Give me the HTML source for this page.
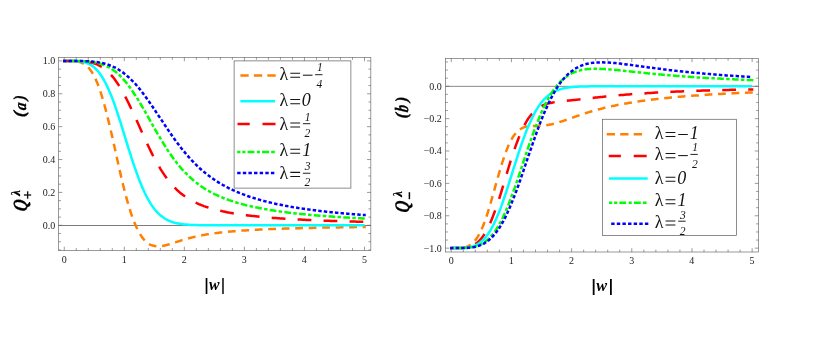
<!DOCTYPE html>
<html><head><meta charset="utf-8"><title>Q plots</title>
<style>
html,body{margin:0;padding:0;background:#fff;}
body{width:817px;height:364px;overflow:hidden;font-family:"Liberation Serif",serif;}
svg{display:block;will-change:transform;opacity:0.999}
svg text{font-family:"Liberation Serif",serif;}
.tk{font-size:10px;fill:#222;}
.lg{font-size:18px;font-style:italic;fill:#151515;}
.lu{font-size:18px;font-style:normal;fill:#151515;}
.fr{font-size:11.5px;font-style:italic;fill:#151515;}
.bl{font-size:17px;font-style:italic;font-weight:bold;fill:#000;stroke:#000;stroke-width:0.3px;}
.bw{font-size:17px;font-style:italic;font-weight:bold;fill:#000;}
.bs{font-size:12px;font-style:italic;font-weight:bold;fill:#000;stroke:#000;stroke-width:0.2px;}
.bsu{font-size:12px;font-style:normal;font-weight:bold;fill:#000;}
</style></head><body>
<svg width="817" height="364" viewBox="0 0 817 364">
<rect width="817" height="364" fill="#fff"/>
<clipPath id="ca"><rect x="58.55" y="57.4" width="312.30" height="193.10"/></clipPath>
<line x1="58.55" y1="225.5" x2="370.85" y2="225.5" stroke="#5a5a5a" stroke-width="0.8"/>
<rect x="58.55" y="57.4" width="312.30" height="193.10" fill="none" stroke="#5c5c5c" stroke-width="0.62"/>
<path d="M64.25,250.5v-3.8M64.25,57.4v3.8M76.26,250.5v-2.4M76.26,57.4v2.4M88.27,250.5v-2.4M88.27,57.4v2.4M100.28,250.5v-2.4M100.28,57.4v2.4M112.29,250.5v-2.4M112.29,57.4v2.4M124.30,250.5v-3.8M124.30,57.4v3.8M136.31,250.5v-2.4M136.31,57.4v2.4M148.32,250.5v-2.4M148.32,57.4v2.4M160.33,250.5v-2.4M160.33,57.4v2.4M172.34,250.5v-2.4M172.34,57.4v2.4M184.35,250.5v-3.8M184.35,57.4v3.8M196.36,250.5v-2.4M196.36,57.4v2.4M208.37,250.5v-2.4M208.37,57.4v2.4M220.38,250.5v-2.4M220.38,57.4v2.4M232.39,250.5v-2.4M232.39,57.4v2.4M244.40,250.5v-3.8M244.40,57.4v3.8M256.41,250.5v-2.4M256.41,57.4v2.4M268.42,250.5v-2.4M268.42,57.4v2.4M280.43,250.5v-2.4M280.43,57.4v2.4M292.44,250.5v-2.4M292.44,57.4v2.4M304.45,250.5v-3.8M304.45,57.4v3.8M316.46,250.5v-2.4M316.46,57.4v2.4M328.47,250.5v-2.4M328.47,57.4v2.4M340.48,250.5v-2.4M340.48,57.4v2.4M352.49,250.5v-2.4M352.49,57.4v2.4M364.50,250.5v-3.8M364.50,57.4v3.8M58.55,249.96h2.4M370.85,249.96h-2.4M58.55,241.74h2.4M370.85,241.74h-2.4M58.55,233.52h2.4M370.85,233.52h-2.4M58.55,225.30h3.8M370.85,225.30h-3.8M58.55,217.08h2.4M370.85,217.08h-2.4M58.55,208.86h2.4M370.85,208.86h-2.4M58.55,200.64h2.4M370.85,200.64h-2.4M58.55,192.42h3.8M370.85,192.42h-3.8M58.55,184.20h2.4M370.85,184.20h-2.4M58.55,175.98h2.4M370.85,175.98h-2.4M58.55,167.76h2.4M370.85,167.76h-2.4M58.55,159.54h3.8M370.85,159.54h-3.8M58.55,151.32h2.4M370.85,151.32h-2.4M58.55,143.10h2.4M370.85,143.10h-2.4M58.55,134.88h2.4M370.85,134.88h-2.4M58.55,126.66h3.8M370.85,126.66h-3.8M58.55,118.44h2.4M370.85,118.44h-2.4M58.55,110.22h2.4M370.85,110.22h-2.4M58.55,102.00h2.4M370.85,102.00h-2.4M58.55,93.78h3.8M370.85,93.78h-3.8M58.55,85.56h2.4M370.85,85.56h-2.4M58.55,77.34h2.4M370.85,77.34h-2.4M58.55,69.12h2.4M370.85,69.12h-2.4M58.55,60.90h3.8M370.85,60.90h-3.8" stroke="#5c5c5c" stroke-width="0.62" fill="none"/>
<text x="64.15" y="262.85" text-anchor="middle" class="tk">0</text>
<text x="124.20" y="262.85" text-anchor="middle" class="tk">1</text>
<text x="184.25" y="262.85" text-anchor="middle" class="tk">2</text>
<text x="244.30" y="262.85" text-anchor="middle" class="tk">3</text>
<text x="304.35" y="262.85" text-anchor="middle" class="tk">4</text>
<text x="364.40" y="262.85" text-anchor="middle" class="tk">5</text>
<text x="55.3" y="228.75" text-anchor="end" class="tk">0.0</text>
<text x="55.3" y="195.87" text-anchor="end" class="tk">0.2</text>
<text x="55.3" y="162.99" text-anchor="end" class="tk">0.4</text>
<text x="55.3" y="130.11" text-anchor="end" class="tk">0.6</text>
<text x="55.3" y="97.23" text-anchor="end" class="tk">0.8</text>
<text x="55.3" y="64.35" text-anchor="end" class="tk">1.0</text>
<g clip-path="url(#ca)">
<path d="M64.3,60.9 L65.3,60.9 L66.3,60.9 L67.3,60.9 L68.3,60.9 L69.3,60.9 L70.3,60.9 L71.3,60.9 L72.3,61.0 L73.3,61.0 L74.3,61.1 L75.3,61.2 L76.3,61.3 L77.3,61.5 L78.3,61.7 L79.3,61.9 L80.3,62.2 L81.3,62.6 L82.3,63.0 L83.3,63.6 L84.3,64.2 L85.3,64.8 L86.3,65.6 L87.4,66.5 L88.4,67.6 L89.4,68.7 L90.4,70.0 L91.4,71.4 L92.4,73.0 L93.4,74.7 L94.4,76.6 L95.4,78.6 L96.4,80.9 L97.4,83.3 L98.4,85.8 L99.4,88.6 L100.4,91.5 L101.4,94.6 L102.4,97.9 L103.4,101.3 L104.4,104.9 L105.4,108.6 L106.4,112.5 L107.4,116.5 L108.4,120.6 L109.4,124.8 L110.4,129.1 L111.5,133.5 L112.5,137.9 L113.5,142.4 L114.5,147.0 L115.5,151.5 L116.5,156.1 L117.5,160.6 L118.5,165.1 L119.5,169.5 L120.5,173.9 L121.5,178.2 L122.5,182.4 L123.5,186.5 L124.5,190.5 L125.5,194.4 L126.5,198.1 L127.5,201.7 L128.5,205.2 L129.5,208.5 L130.5,211.7 L131.5,214.7 L132.5,217.6 L133.5,220.3 L134.5,222.8 L135.6,225.2 L136.6,227.5 L137.6,229.6 L138.6,231.5 L139.6,233.3 L140.6,235.0 L141.6,236.5 L142.6,237.9 L143.6,239.1 L144.6,240.2 L145.6,241.3 L146.6,242.2 L147.6,243.0 L148.6,243.7 L149.6,244.3 L150.6,244.8 L151.6,245.2 L152.6,245.6 L153.6,245.8 L154.6,246.0 L155.6,246.2 L156.6,246.3 L157.6,246.3 L158.6,246.3 L159.7,246.3 L160.7,246.2 L161.7,246.0 L162.7,245.9 L163.7,245.7 L164.7,245.5 L165.7,245.2 L166.7,245.0 L167.7,244.7 L168.7,244.4 L169.7,244.1 L170.7,243.8 L171.7,243.5 L172.7,243.2 L173.7,242.9 L174.7,242.6 L175.7,242.2 L176.7,241.9 L177.7,241.6 L178.7,241.3 L179.7,241.0 L180.7,240.6 L181.7,240.3 L182.7,240.0 L183.8,239.7 L184.8,239.4 L185.8,239.1 L186.8,238.8 L187.8,238.6 L188.8,238.3 L189.8,238.0 L190.8,237.8 L191.8,237.5 L192.8,237.3 L193.8,237.0 L194.8,236.8 L195.8,236.6 L196.8,236.3 L197.8,236.1 L198.8,235.9 L199.8,235.7 L200.8,235.5 L201.8,235.3 L202.8,235.1 L203.8,234.9 L204.8,234.8 L205.8,234.6 L206.8,234.4 L207.9,234.3 L208.9,234.1 L209.9,234.0 L210.9,233.8 L211.9,233.7 L212.9,233.5 L213.9,233.4 L214.9,233.2 L215.9,233.1 L216.9,233.0 L217.9,232.9 L218.9,232.7 L219.9,232.6 L220.9,232.5 L221.9,232.4 L222.9,232.3 L223.9,232.2 L224.9,232.1 L225.9,232.0 L226.9,231.9 L227.9,231.8 L228.9,231.7 L229.9,231.6 L230.9,231.5 L232.0,231.4 L233.0,231.3 L234.0,231.3 L235.0,231.2 L236.0,231.1 L237.0,231.0 L238.0,230.9 L239.0,230.9 L240.0,230.8 L241.0,230.7 L242.0,230.6 L243.0,230.6 L244.0,230.5 L245.0,230.4 L246.0,230.4 L247.0,230.3 L248.0,230.3 L249.0,230.2 L250.0,230.1 L251.0,230.1 L252.0,230.0 L253.0,230.0 L254.0,229.9 L255.0,229.8 L256.1,229.8 L257.1,229.7 L258.1,229.7 L259.1,229.6 L260.1,229.6 L261.1,229.5 L262.1,229.5 L263.1,229.4 L264.1,229.4 L265.1,229.4 L266.1,229.3 L267.1,229.3 L268.1,229.2 L269.1,229.2 L270.1,229.1 L271.1,229.1 L272.1,229.1 L273.1,229.0 L274.1,229.0 L275.1,228.9 L276.1,228.9 L277.1,228.9 L278.1,228.8 L279.1,228.8 L280.2,228.8 L281.2,228.7 L282.2,228.7 L283.2,228.7 L284.2,228.6 L285.2,228.6 L286.2,228.6 L287.2,228.5 L288.2,228.5 L289.2,228.5 L290.2,228.4 L291.2,228.4 L292.2,228.4 L293.2,228.3 L294.2,228.3 L295.2,228.3 L296.2,228.3 L297.2,228.2 L298.2,228.2 L299.2,228.2 L300.2,228.2 L301.2,228.1 L302.2,228.1 L303.2,228.1 L304.3,228.1 L305.3,228.0 L306.3,228.0 L307.3,228.0 L308.3,228.0 L309.3,227.9 L310.3,227.9 L311.3,227.9 L312.3,227.9 L313.3,227.8 L314.3,227.8 L315.3,227.8 L316.3,227.8 L317.3,227.8 L318.3,227.7 L319.3,227.7 L320.3,227.7 L321.3,227.7 L322.3,227.7 L323.3,227.6 L324.3,227.6 L325.3,227.6 L326.3,227.6 L327.3,227.6 L328.4,227.5 L329.4,227.5 L330.4,227.5 L331.4,227.5 L332.4,227.5 L333.4,227.5 L334.4,227.4 L335.4,227.4 L336.4,227.4 L337.4,227.4 L338.4,227.4 L339.4,227.4 L340.4,227.3 L341.4,227.3 L342.4,227.3 L343.4,227.3 L344.4,227.3 L345.4,227.3 L346.4,227.3 L347.4,227.2 L348.4,227.2 L349.4,227.2 L350.4,227.2 L351.4,227.2 L352.5,227.2 L353.5,227.2 L354.5,227.1 L355.5,227.1 L356.5,227.1 L357.5,227.1 L358.5,227.1 L359.5,227.1 L360.5,227.1 L361.5,227.1 L362.5,227.0 L363.5,227.0 L364.5,227.0" fill="none" stroke="#ff8000" stroke-width="2.5" stroke-linejoin="round" stroke-dasharray="5.3 8.2" stroke-linecap="square"/>
<path d="M64.3,60.9 L65.3,60.9 L66.3,60.9 L67.3,60.9 L68.3,60.9 L69.3,60.9 L70.3,60.9 L71.3,60.9 L72.3,60.9 L73.3,61.0 L74.3,61.0 L75.3,61.0 L76.3,61.1 L77.3,61.1 L78.3,61.2 L79.3,61.3 L80.3,61.5 L81.3,61.6 L82.3,61.8 L83.3,62.0 L84.3,62.3 L85.3,62.6 L86.3,62.9 L87.4,63.3 L88.4,63.7 L89.4,64.2 L90.4,64.8 L91.4,65.4 L92.4,66.1 L93.4,66.8 L94.4,67.6 L95.4,68.6 L96.4,69.6 L97.4,70.6 L98.4,71.8 L99.4,73.1 L100.4,74.5 L101.4,75.9 L102.4,77.5 L103.4,79.2 L104.4,81.0 L105.4,82.8 L106.4,84.8 L107.4,86.9 L108.4,89.1 L109.4,91.4 L110.4,93.8 L111.5,96.3 L112.5,98.9 L113.5,101.6 L114.5,104.4 L115.5,107.2 L116.5,110.1 L117.5,113.1 L118.5,116.2 L119.5,119.3 L120.5,122.4 L121.5,125.6 L122.5,128.8 L123.5,132.1 L124.5,135.3 L125.5,138.6 L126.5,141.8 L127.5,145.1 L128.5,148.3 L129.5,151.5 L130.5,154.7 L131.5,157.8 L132.5,160.9 L133.5,163.9 L134.5,166.9 L135.6,169.8 L136.6,172.7 L137.6,175.4 L138.6,178.1 L139.6,180.7 L140.6,183.2 L141.6,185.7 L142.6,188.0 L143.6,190.3 L144.6,192.5 L145.6,194.5 L146.6,196.5 L147.6,198.4 L148.6,200.2 L149.6,201.9 L150.6,203.6 L151.6,205.1 L152.6,206.6 L153.6,207.9 L154.6,209.2 L155.6,210.5 L156.6,211.6 L157.6,212.7 L158.6,213.7 L159.7,214.6 L160.7,215.5 L161.7,216.3 L162.7,217.1 L163.7,217.8 L164.7,218.5 L165.7,219.1 L166.7,219.6 L167.7,220.1 L168.7,220.6 L169.7,221.0 L170.7,221.4 L171.7,221.8 L172.7,222.2 L173.7,222.5 L174.7,222.7 L175.7,223.0 L176.7,223.2 L177.7,223.4 L178.7,223.6 L179.7,223.8 L180.7,224.0 L181.7,224.1 L182.7,224.2 L183.8,224.4 L184.8,224.5 L185.8,224.6 L186.8,224.6 L187.8,224.7 L188.8,224.8 L189.8,224.8 L190.8,224.9 L191.8,224.9 L192.8,225.0 L193.8,225.0 L194.8,225.1 L195.8,225.1 L196.8,225.1 L197.8,225.1 L198.8,225.2 L199.8,225.2 L200.8,225.2 L201.8,225.2 L202.8,225.2 L203.8,225.2 L204.8,225.2 L205.8,225.2 L206.8,225.3 L207.9,225.3 L208.9,225.3 L209.9,225.3 L210.9,225.3 L211.9,225.3 L212.9,225.3 L213.9,225.3 L214.9,225.3 L215.9,225.3 L216.9,225.3 L217.9,225.3 L218.9,225.3 L219.9,225.3 L220.9,225.3 L221.9,225.3 L222.9,225.3 L223.9,225.3 L224.9,225.3 L225.9,225.3 L226.9,225.3 L227.9,225.3 L228.9,225.3 L229.9,225.3 L230.9,225.3 L232.0,225.3 L233.0,225.3 L234.0,225.3 L235.0,225.3 L236.0,225.3 L237.0,225.3 L238.0,225.3 L239.0,225.3 L240.0,225.3 L241.0,225.3 L242.0,225.3 L243.0,225.3 L244.0,225.3 L245.0,225.3 L246.0,225.3 L247.0,225.3 L248.0,225.3 L249.0,225.3 L250.0,225.3 L251.0,225.3 L252.0,225.3 L253.0,225.3 L254.0,225.3 L255.0,225.3 L256.1,225.3 L257.1,225.3 L258.1,225.3 L259.1,225.3 L260.1,225.3 L261.1,225.3 L262.1,225.3 L263.1,225.3 L264.1,225.3 L265.1,225.3 L266.1,225.3 L267.1,225.3 L268.1,225.3 L269.1,225.3 L270.1,225.3 L271.1,225.3 L272.1,225.3 L273.1,225.3 L274.1,225.3 L275.1,225.3 L276.1,225.3 L277.1,225.3 L278.1,225.3 L279.1,225.3 L280.2,225.3 L281.2,225.3 L282.2,225.3 L283.2,225.3 L284.2,225.3 L285.2,225.3 L286.2,225.3 L287.2,225.3 L288.2,225.3 L289.2,225.3 L290.2,225.3 L291.2,225.3 L292.2,225.3 L293.2,225.3 L294.2,225.3 L295.2,225.3 L296.2,225.3 L297.2,225.3 L298.2,225.3 L299.2,225.3 L300.2,225.3 L301.2,225.3 L302.2,225.3 L303.2,225.3 L304.3,225.3 L305.3,225.3 L306.3,225.3 L307.3,225.3 L308.3,225.3 L309.3,225.3 L310.3,225.3 L311.3,225.3 L312.3,225.3 L313.3,225.3 L314.3,225.3 L315.3,225.3 L316.3,225.3 L317.3,225.3 L318.3,225.3 L319.3,225.3 L320.3,225.3 L321.3,225.3 L322.3,225.3 L323.3,225.3 L324.3,225.3 L325.3,225.3 L326.3,225.3 L327.3,225.3 L328.4,225.3 L329.4,225.3 L330.4,225.3 L331.4,225.3 L332.4,225.3 L333.4,225.3 L334.4,225.3 L335.4,225.3 L336.4,225.3 L337.4,225.3 L338.4,225.3 L339.4,225.3 L340.4,225.3 L341.4,225.3 L342.4,225.3 L343.4,225.3 L344.4,225.3 L345.4,225.3 L346.4,225.3 L347.4,225.3 L348.4,225.3 L349.4,225.3 L350.4,225.3 L351.4,225.3 L352.5,225.3 L353.5,225.3 L354.5,225.3 L355.5,225.3 L356.5,225.3 L357.5,225.3 L358.5,225.3 L359.5,225.3 L360.5,225.3 L361.5,225.3 L362.5,225.3 L363.5,225.3 L364.5,225.3" fill="none" stroke="#00ffff" stroke-width="2.5" stroke-linejoin="round"/>
<path d="M64.3,60.9 L65.3,60.9 L66.3,60.9 L67.3,60.9 L68.3,60.9 L69.3,60.9 L70.3,60.9 L71.3,60.9 L72.3,60.9 L73.3,60.9 L74.3,60.9 L75.3,60.9 L76.3,61.0 L77.3,61.0 L78.3,61.0 L79.3,61.1 L80.3,61.1 L81.3,61.2 L82.3,61.2 L83.3,61.3 L84.3,61.4 L85.3,61.5 L86.3,61.7 L87.4,61.8 L88.4,62.0 L89.4,62.1 L90.4,62.4 L91.4,62.6 L92.4,62.9 L93.4,63.1 L94.4,63.5 L95.4,63.8 L96.4,64.2 L97.4,64.6 L98.4,65.1 L99.4,65.6 L100.4,66.2 L101.4,66.7 L102.4,67.4 L103.4,68.1 L104.4,68.8 L105.4,69.6 L106.4,70.4 L107.4,71.3 L108.4,72.3 L109.4,73.3 L110.4,74.3 L111.5,75.4 L112.5,76.6 L113.5,77.8 L114.5,79.1 L115.5,80.5 L116.5,81.9 L117.5,83.3 L118.5,84.9 L119.5,86.5 L120.5,88.1 L121.5,89.8 L122.5,91.5 L123.5,93.3 L124.5,95.2 L125.5,97.1 L126.5,99.0 L127.5,101.0 L128.5,103.0 L129.5,105.1 L130.5,107.2 L131.5,109.3 L132.5,111.5 L133.5,113.6 L134.5,115.8 L135.6,118.0 L136.6,120.3 L137.6,122.5 L138.6,124.8 L139.6,127.0 L140.6,129.2 L141.6,131.5 L142.6,133.7 L143.6,135.9 L144.6,138.1 L145.6,140.3 L146.6,142.5 L147.6,144.6 L148.6,146.7 L149.6,148.8 L150.6,150.9 L151.6,152.9 L152.6,154.9 L153.6,156.8 L154.6,158.7 L155.6,160.6 L156.6,162.4 L157.6,164.2 L158.6,165.9 L159.7,167.6 L160.7,169.3 L161.7,170.9 L162.7,172.4 L163.7,173.9 L164.7,175.4 L165.7,176.8 L166.7,178.2 L167.7,179.5 L168.7,180.8 L169.7,182.1 L170.7,183.3 L171.7,184.5 L172.7,185.6 L173.7,186.7 L174.7,187.7 L175.7,188.7 L176.7,189.7 L177.7,190.6 L178.7,191.5 L179.7,192.4 L180.7,193.2 L181.7,194.1 L182.7,194.8 L183.8,195.6 L184.8,196.3 L185.8,197.0 L186.8,197.7 L187.8,198.3 L188.8,198.9 L189.8,199.5 L190.8,200.1 L191.8,200.7 L192.8,201.2 L193.8,201.7 L194.8,202.2 L195.8,202.7 L196.8,203.2 L197.8,203.6 L198.8,204.1 L199.8,204.5 L200.8,204.9 L201.8,205.3 L202.8,205.7 L203.8,206.1 L204.8,206.4 L205.8,206.8 L206.8,207.1 L207.9,207.4 L208.9,207.8 L209.9,208.1 L210.9,208.4 L211.9,208.6 L212.9,208.9 L213.9,209.2 L214.9,209.5 L215.9,209.7 L216.9,210.0 L217.9,210.2 L218.9,210.5 L219.9,210.7 L220.9,210.9 L221.9,211.1 L222.9,211.4 L223.9,211.6 L224.9,211.8 L225.9,212.0 L226.9,212.2 L227.9,212.4 L228.9,212.6 L229.9,212.7 L230.9,212.9 L232.0,213.1 L233.0,213.3 L234.0,213.4 L235.0,213.6 L236.0,213.7 L237.0,213.9 L238.0,214.1 L239.0,214.2 L240.0,214.3 L241.0,214.5 L242.0,214.6 L243.0,214.8 L244.0,214.9 L245.0,215.0 L246.0,215.2 L247.0,215.3 L248.0,215.4 L249.0,215.5 L250.0,215.7 L251.0,215.8 L252.0,215.9 L253.0,216.0 L254.0,216.1 L255.0,216.2 L256.1,216.3 L257.1,216.4 L258.1,216.5 L259.1,216.6 L260.1,216.7 L261.1,216.8 L262.1,216.9 L263.1,217.0 L264.1,217.1 L265.1,217.2 L266.1,217.3 L267.1,217.4 L268.1,217.5 L269.1,217.5 L270.1,217.6 L271.1,217.7 L272.1,217.8 L273.1,217.9 L274.1,217.9 L275.1,218.0 L276.1,218.1 L277.1,218.2 L278.1,218.2 L279.1,218.3 L280.2,218.4 L281.2,218.5 L282.2,218.5 L283.2,218.6 L284.2,218.7 L285.2,218.7 L286.2,218.8 L287.2,218.9 L288.2,218.9 L289.2,219.0 L290.2,219.0 L291.2,219.1 L292.2,219.2 L293.2,219.2 L294.2,219.3 L295.2,219.3 L296.2,219.4 L297.2,219.4 L298.2,219.5 L299.2,219.5 L300.2,219.6 L301.2,219.6 L302.2,219.7 L303.2,219.8 L304.3,219.8 L305.3,219.8 L306.3,219.9 L307.3,219.9 L308.3,220.0 L309.3,220.0 L310.3,220.1 L311.3,220.1 L312.3,220.2 L313.3,220.2 L314.3,220.3 L315.3,220.3 L316.3,220.3 L317.3,220.4 L318.3,220.4 L319.3,220.5 L320.3,220.5 L321.3,220.5 L322.3,220.6 L323.3,220.6 L324.3,220.7 L325.3,220.7 L326.3,220.7 L327.3,220.8 L328.4,220.8 L329.4,220.8 L330.4,220.9 L331.4,220.9 L332.4,221.0 L333.4,221.0 L334.4,221.0 L335.4,221.1 L336.4,221.1 L337.4,221.1 L338.4,221.2 L339.4,221.2 L340.4,221.2 L341.4,221.2 L342.4,221.3 L343.4,221.3 L344.4,221.3 L345.4,221.4 L346.4,221.4 L347.4,221.4 L348.4,221.5 L349.4,221.5 L350.4,221.5 L351.4,221.5 L352.5,221.6 L353.5,221.6 L354.5,221.6 L355.5,221.6 L356.5,221.7 L357.5,221.7 L358.5,221.7 L359.5,221.7 L360.5,221.8 L361.5,221.8 L362.5,221.8 L363.5,221.8 L364.5,221.9" fill="none" stroke="#ff0000" stroke-width="2.5" stroke-linejoin="round" stroke-dasharray="11.3 14.7" stroke-linecap="square"/>
<path d="M64.3,60.9 L65.3,60.9 L66.3,60.9 L67.3,60.9 L68.3,60.9 L69.3,60.9 L70.3,60.9 L71.3,60.9 L72.3,60.9 L73.3,60.9 L74.3,60.9 L75.3,60.9 L76.3,60.9 L77.3,60.9 L78.3,61.0 L79.3,61.0 L80.3,61.0 L81.3,61.0 L82.3,61.1 L83.3,61.1 L84.3,61.2 L85.3,61.2 L86.3,61.3 L87.4,61.4 L88.4,61.5 L89.4,61.6 L90.4,61.7 L91.4,61.8 L92.4,61.9 L93.4,62.1 L94.4,62.3 L95.4,62.5 L96.4,62.7 L97.4,62.9 L98.4,63.2 L99.4,63.4 L100.4,63.7 L101.4,64.1 L102.4,64.4 L103.4,64.8 L104.4,65.2 L105.4,65.6 L106.4,66.1 L107.4,66.6 L108.4,67.1 L109.4,67.7 L110.4,68.3 L111.5,68.9 L112.5,69.6 L113.5,70.3 L114.5,71.0 L115.5,71.8 L116.5,72.6 L117.5,73.5 L118.5,74.4 L119.5,75.3 L120.5,76.3 L121.5,77.3 L122.5,78.4 L123.5,79.5 L124.5,80.6 L125.5,81.8 L126.5,83.0 L127.5,84.3 L128.5,85.6 L129.5,86.9 L130.5,88.3 L131.5,89.7 L132.5,91.2 L133.5,92.7 L134.5,94.2 L135.6,95.7 L136.6,97.3 L137.6,98.9 L138.6,100.5 L139.6,102.2 L140.6,103.9 L141.6,105.6 L142.6,107.3 L143.6,109.0 L144.6,110.8 L145.6,112.5 L146.6,114.3 L147.6,116.0 L148.6,117.8 L149.6,119.6 L150.6,121.4 L151.6,123.2 L152.6,125.0 L153.6,126.7 L154.6,128.5 L155.6,130.3 L156.6,132.0 L157.6,133.8 L158.6,135.5 L159.7,137.2 L160.7,138.9 L161.7,140.6 L162.7,142.2 L163.7,143.8 L164.7,145.5 L165.7,147.0 L166.7,148.6 L167.7,150.2 L168.7,151.7 L169.7,153.2 L170.7,154.6 L171.7,156.1 L172.7,157.5 L173.7,158.8 L174.7,160.2 L175.7,161.5 L176.7,162.8 L177.7,164.1 L178.7,165.3 L179.7,166.5 L180.7,167.7 L181.7,168.9 L182.7,170.0 L183.8,171.1 L184.8,172.2 L185.8,173.2 L186.8,174.2 L187.8,175.2 L188.8,176.2 L189.8,177.1 L190.8,178.0 L191.8,178.9 L192.8,179.8 L193.8,180.7 L194.8,181.5 L195.8,182.3 L196.8,183.1 L197.8,183.9 L198.8,184.6 L199.8,185.3 L200.8,186.0 L201.8,186.7 L202.8,187.4 L203.8,188.1 L204.8,188.7 L205.8,189.3 L206.8,189.9 L207.9,190.5 L208.9,191.1 L209.9,191.6 L210.9,192.2 L211.9,192.7 L212.9,193.2 L213.9,193.8 L214.9,194.3 L215.9,194.7 L216.9,195.2 L217.9,195.7 L218.9,196.1 L219.9,196.6 L220.9,197.0 L221.9,197.4 L222.9,197.8 L223.9,198.2 L224.9,198.6 L225.9,199.0 L226.9,199.4 L227.9,199.7 L228.9,200.1 L229.9,200.4 L230.9,200.8 L232.0,201.1 L233.0,201.4 L234.0,201.8 L235.0,202.1 L236.0,202.4 L237.0,202.7 L238.0,203.0 L239.0,203.3 L240.0,203.6 L241.0,203.8 L242.0,204.1 L243.0,204.4 L244.0,204.6 L245.0,204.9 L246.0,205.2 L247.0,205.4 L248.0,205.6 L249.0,205.9 L250.0,206.1 L251.0,206.3 L252.0,206.6 L253.0,206.8 L254.0,207.0 L255.0,207.2 L256.1,207.4 L257.1,207.6 L258.1,207.8 L259.1,208.0 L260.1,208.2 L261.1,208.4 L262.1,208.6 L263.1,208.8 L264.1,209.0 L265.1,209.2 L266.1,209.3 L267.1,209.5 L268.1,209.7 L269.1,209.8 L270.1,210.0 L271.1,210.2 L272.1,210.3 L273.1,210.5 L274.1,210.6 L275.1,210.8 L276.1,210.9 L277.1,211.1 L278.1,211.2 L279.1,211.4 L280.2,211.5 L281.2,211.7 L282.2,211.8 L283.2,211.9 L284.2,212.1 L285.2,212.2 L286.2,212.3 L287.2,212.4 L288.2,212.6 L289.2,212.7 L290.2,212.8 L291.2,212.9 L292.2,213.0 L293.2,213.2 L294.2,213.3 L295.2,213.4 L296.2,213.5 L297.2,213.6 L298.2,213.7 L299.2,213.8 L300.2,213.9 L301.2,214.0 L302.2,214.1 L303.2,214.2 L304.3,214.3 L305.3,214.4 L306.3,214.5 L307.3,214.6 L308.3,214.7 L309.3,214.8 L310.3,214.9 L311.3,215.0 L312.3,215.1 L313.3,215.2 L314.3,215.2 L315.3,215.3 L316.3,215.4 L317.3,215.5 L318.3,215.6 L319.3,215.7 L320.3,215.7 L321.3,215.8 L322.3,215.9 L323.3,216.0 L324.3,216.0 L325.3,216.1 L326.3,216.2 L327.3,216.3 L328.4,216.3 L329.4,216.4 L330.4,216.5 L331.4,216.5 L332.4,216.6 L333.4,216.7 L334.4,216.8 L335.4,216.8 L336.4,216.9 L337.4,217.0 L338.4,217.0 L339.4,217.1 L340.4,217.1 L341.4,217.2 L342.4,217.3 L343.4,217.3 L344.4,217.4 L345.4,217.4 L346.4,217.5 L347.4,217.6 L348.4,217.6 L349.4,217.7 L350.4,217.7 L351.4,217.8 L352.5,217.8 L353.5,217.9 L354.5,217.9 L355.5,218.0 L356.5,218.1 L357.5,218.1 L358.5,218.2 L359.5,218.2 L360.5,218.3 L361.5,218.3 L362.5,218.4 L363.5,218.4 L364.5,218.4" fill="none" stroke="#00ff00" stroke-width="2.5" stroke-linejoin="round" stroke-dasharray="1.0 4.8 4.2 4.8" stroke-linecap="square"/>
<path d="M64.3,60.9 L65.3,60.9 L66.3,60.9 L67.3,60.9 L68.3,60.9 L69.3,60.9 L70.3,60.9 L71.3,60.9 L72.3,60.9 L73.3,60.9 L74.3,60.9 L75.3,60.9 L76.3,60.9 L77.3,60.9 L78.3,60.9 L79.3,61.0 L80.3,61.0 L81.3,61.0 L82.3,61.0 L83.3,61.0 L84.3,61.1 L85.3,61.1 L86.3,61.2 L87.4,61.2 L88.4,61.3 L89.4,61.3 L90.4,61.4 L91.4,61.5 L92.4,61.6 L93.4,61.7 L94.4,61.8 L95.4,61.9 L96.4,62.0 L97.4,62.2 L98.4,62.3 L99.4,62.5 L100.4,62.7 L101.4,62.9 L102.4,63.1 L103.4,63.3 L104.4,63.6 L105.4,63.9 L106.4,64.2 L107.4,64.5 L108.4,64.8 L109.4,65.2 L110.4,65.6 L111.5,66.0 L112.5,66.4 L113.5,66.9 L114.5,67.3 L115.5,67.8 L116.5,68.4 L117.5,68.9 L118.5,69.5 L119.5,70.2 L120.5,70.8 L121.5,71.5 L122.5,72.2 L123.5,72.9 L124.5,73.7 L125.5,74.5 L126.5,75.3 L127.5,76.2 L128.5,77.1 L129.5,78.0 L130.5,79.0 L131.5,80.0 L132.5,81.0 L133.5,82.0 L134.5,83.1 L135.6,84.2 L136.6,85.4 L137.6,86.5 L138.6,87.7 L139.6,88.9 L140.6,90.2 L141.6,91.5 L142.6,92.8 L143.6,94.1 L144.6,95.4 L145.6,96.8 L146.6,98.2 L147.6,99.6 L148.6,101.0 L149.6,102.4 L150.6,103.9 L151.6,105.3 L152.6,106.8 L153.6,108.3 L154.6,109.8 L155.6,111.3 L156.6,112.8 L157.6,114.3 L158.6,115.8 L159.7,117.3 L160.7,118.8 L161.7,120.3 L162.7,121.8 L163.7,123.4 L164.7,124.9 L165.7,126.4 L166.7,127.8 L167.7,129.3 L168.7,130.8 L169.7,132.3 L170.7,133.7 L171.7,135.2 L172.7,136.6 L173.7,138.0 L174.7,139.4 L175.7,140.8 L176.7,142.1 L177.7,143.5 L178.7,144.8 L179.7,146.1 L180.7,147.4 L181.7,148.7 L182.7,149.9 L183.8,151.2 L184.8,152.4 L185.8,153.6 L186.8,154.8 L187.8,155.9 L188.8,157.1 L189.8,158.2 L190.8,159.3 L191.8,160.4 L192.8,161.4 L193.8,162.5 L194.8,163.5 L195.8,164.5 L196.8,165.5 L197.8,166.4 L198.8,167.4 L199.8,168.3 L200.8,169.2 L201.8,170.1 L202.8,170.9 L203.8,171.8 L204.8,172.6 L205.8,173.4 L206.8,174.2 L207.9,175.0 L208.9,175.8 L209.9,176.5 L210.9,177.3 L211.9,178.0 L212.9,178.7 L213.9,179.4 L214.9,180.0 L215.9,180.7 L216.9,181.3 L217.9,182.0 L218.9,182.6 L219.9,183.2 L220.9,183.8 L221.9,184.4 L222.9,185.0 L223.9,185.5 L224.9,186.1 L225.9,186.6 L226.9,187.1 L227.9,187.7 L228.9,188.2 L229.9,188.7 L230.9,189.1 L232.0,189.6 L233.0,190.1 L234.0,190.5 L235.0,191.0 L236.0,191.4 L237.0,191.9 L238.0,192.3 L239.0,192.7 L240.0,193.1 L241.0,193.5 L242.0,193.9 L243.0,194.3 L244.0,194.7 L245.0,195.0 L246.0,195.4 L247.0,195.8 L248.0,196.1 L249.0,196.5 L250.0,196.8 L251.0,197.1 L252.0,197.5 L253.0,197.8 L254.0,198.1 L255.0,198.4 L256.1,198.7 L257.1,199.0 L258.1,199.3 L259.1,199.6 L260.1,199.9 L261.1,200.2 L262.1,200.5 L263.1,200.7 L264.1,201.0 L265.1,201.3 L266.1,201.5 L267.1,201.8 L268.1,202.0 L269.1,202.3 L270.1,202.5 L271.1,202.7 L272.1,203.0 L273.1,203.2 L274.1,203.4 L275.1,203.7 L276.1,203.9 L277.1,204.1 L278.1,204.3 L279.1,204.5 L280.2,204.7 L281.2,204.9 L282.2,205.1 L283.2,205.3 L284.2,205.5 L285.2,205.7 L286.2,205.9 L287.2,206.1 L288.2,206.3 L289.2,206.5 L290.2,206.6 L291.2,206.8 L292.2,207.0 L293.2,207.2 L294.2,207.3 L295.2,207.5 L296.2,207.6 L297.2,207.8 L298.2,208.0 L299.2,208.1 L300.2,208.3 L301.2,208.4 L302.2,208.6 L303.2,208.7 L304.3,208.9 L305.3,209.0 L306.3,209.2 L307.3,209.3 L308.3,209.4 L309.3,209.6 L310.3,209.7 L311.3,209.9 L312.3,210.0 L313.3,210.1 L314.3,210.2 L315.3,210.4 L316.3,210.5 L317.3,210.6 L318.3,210.7 L319.3,210.9 L320.3,211.0 L321.3,211.1 L322.3,211.2 L323.3,211.3 L324.3,211.4 L325.3,211.6 L326.3,211.7 L327.3,211.8 L328.4,211.9 L329.4,212.0 L330.4,212.1 L331.4,212.2 L332.4,212.3 L333.4,212.4 L334.4,212.5 L335.4,212.6 L336.4,212.7 L337.4,212.8 L338.4,212.9 L339.4,213.0 L340.4,213.1 L341.4,213.2 L342.4,213.3 L343.4,213.4 L344.4,213.4 L345.4,213.5 L346.4,213.6 L347.4,213.7 L348.4,213.8 L349.4,213.9 L350.4,214.0 L351.4,214.0 L352.5,214.1 L353.5,214.2 L354.5,214.3 L355.5,214.4 L356.5,214.4 L357.5,214.5 L358.5,214.6 L359.5,214.7 L360.5,214.7 L361.5,214.8 L362.5,214.9 L363.5,215.0 L364.5,215.0" fill="none" stroke="#0000ff" stroke-width="2.5" stroke-linejoin="round" stroke-dasharray="0.95 4.65" stroke-linecap="square"/>
</g>
<rect x="234.1" y="60.9" width="116.8" height="127.2" fill="#fff" stroke="#505050" stroke-width="0.65"/>
<path d="M240.40,75.4h8.3M253.90,75.4h8.3M267.40,75.4h8.3" stroke="#ff8000" stroke-width="2.5" fill="none"/>
<path d="M240.4,101.2H275" stroke="#00ffff" stroke-width="2.5"/>
<path d="M237.50,124.0h12.2M262.50,124.0h13.0" stroke="#ff0000" stroke-width="2.5" fill="none"/>
<path d="M237.20,151.9h3.2M242.30,151.9h3.1M247.60,151.9h6.8M256.90,151.9h3.0M262.10,151.9h6.9M271.20,151.9h3.6" stroke="#00ff00" stroke-width="2.5" fill="none"/>
<path d="M237.20,173.1h3.4M242.82,173.1h3.4M248.44,173.1h3.4M254.06,173.1h3.4M259.68,173.1h3.4M265.30,173.1h3.4M270.92,173.1h3.4" stroke="#0000ff" stroke-width="2.5" fill="none"/>
<text x="279.40" y="79.80" class="lu">λ</text><path d="M290.29999999999995,73.15H300.09999999999997M290.29999999999995,77.25H300.09999999999997" stroke="#151515" stroke-width="1.05" fill="none"/><path d="M302.9,75.20H312.5" stroke="#151515" stroke-width="1.05" fill="none"/><path d="M315.09999999999997,74.70H322.49999999999994" stroke="#151515" stroke-width="0.95" fill="none"/><text x="316.90" y="71.10" class="fr">1</text><text x="316.60" y="87.60" class="fr">4</text>
<text x="279.40" y="106.20" class="lu">λ</text><path d="M290.29999999999995,99.55H300.09999999999997M290.29999999999995,103.65H300.09999999999997" stroke="#151515" stroke-width="1.05" fill="none"/><text x="301.85" y="106.20" class="lg">0</text>
<text x="279.40" y="129.60" class="lu">λ</text><path d="M290.29999999999995,122.95H300.09999999999997M290.29999999999995,127.05H300.09999999999997" stroke="#151515" stroke-width="1.05" fill="none"/><path d="M302.9,123.70H310.29999999999995" stroke="#151515" stroke-width="0.95" fill="none"/><text x="304.70" y="120.80" class="fr">1</text><text x="304.50" y="136.90" class="fr">2</text>
<text x="279.40" y="155.80" class="lu">λ</text><path d="M290.29999999999995,149.15H300.09999999999997M290.29999999999995,153.25H300.09999999999997" stroke="#151515" stroke-width="1.05" fill="none"/><text x="302.15" y="155.80" class="lg">1</text>
<text x="279.40" y="179.00" class="lu">λ</text><path d="M290.29999999999995,172.35H300.09999999999997M290.29999999999995,176.45H300.09999999999997" stroke="#151515" stroke-width="1.05" fill="none"/><path d="M302.9,173.25H310.29999999999995" stroke="#151515" stroke-width="0.95" fill="none"/><text x="304.80" y="170.00" class="fr">3</text><text x="304.50" y="186.40" class="fr">2</text>
<g transform="rotate(-90)">
<text transform="translate(-117.23,25.30) scale(1.100,0.944)" class="bl">(</text>
<text transform="translate(-110.39,25.85) scale(0.875,0.994) skewX(-8)" class="bl">a</text>
<text transform="translate(-100.35,25.30) scale(0.922,0.944)" class="bl">)</text>
<text transform="translate(-211.81,27.06) scale(0.946,1.179) skewX(-8)" class="bl">Q</text>
<text transform="translate(-195.77,20.00) scale(1.055,1.071)" class="bs">λ</text>
<text transform="translate(-199.55,32.19) scale(1.273,1.273)" class="bs">+</text>
</g>
<text transform="translate(203.96,289.96) scale(1.440,0.997)" class="bw">|</text>
<text transform="translate(208.90,290.15) scale(0.930,0.987)" class="bw">w</text>
<text transform="translate(220.82,289.96) scale(1.280,0.997)" class="bw">|</text>
<clipPath id="cb"><rect x="445.5" y="58.35" width="313.05" height="193.65"/></clipPath>
<line x1="445.5" y1="86.35" x2="758.55" y2="86.35" stroke="#6c6c6c" stroke-width="0.8"/>
<rect x="445.5" y="58.35" width="313.05" height="193.65" fill="none" stroke="#5c5c5c" stroke-width="0.62"/>
<path d="M451.25,252.0v-3.8M451.25,58.35v3.8M463.29,252.0v-2.4M463.29,58.35v2.4M475.32,252.0v-2.4M475.32,58.35v2.4M487.36,252.0v-2.4M487.36,58.35v2.4M499.39,252.0v-2.4M499.39,58.35v2.4M511.43,252.0v-3.8M511.43,58.35v3.8M523.47,252.0v-2.4M523.47,58.35v2.4M535.50,252.0v-2.4M535.50,58.35v2.4M547.54,252.0v-2.4M547.54,58.35v2.4M559.57,252.0v-2.4M559.57,58.35v2.4M571.61,252.0v-3.8M571.61,58.35v3.8M583.65,252.0v-2.4M583.65,58.35v2.4M595.68,252.0v-2.4M595.68,58.35v2.4M607.72,252.0v-2.4M607.72,58.35v2.4M619.75,252.0v-2.4M619.75,58.35v2.4M631.79,252.0v-3.8M631.79,58.35v3.8M643.83,252.0v-2.4M643.83,58.35v2.4M655.86,252.0v-2.4M655.86,58.35v2.4M667.90,252.0v-2.4M667.90,58.35v2.4M679.93,252.0v-2.4M679.93,58.35v2.4M691.97,252.0v-3.8M691.97,58.35v3.8M704.01,252.0v-2.4M704.01,58.35v2.4M716.04,252.0v-2.4M716.04,58.35v2.4M728.08,252.0v-2.4M728.08,58.35v2.4M740.11,252.0v-2.4M740.11,58.35v2.4M752.15,252.0v-3.8M752.15,58.35v3.8M445.5,248.15h3.8M758.55,248.15h-3.8M445.5,240.06h2.4M758.55,240.06h-2.4M445.5,231.96h2.4M758.55,231.96h-2.4M445.5,223.87h2.4M758.55,223.87h-2.4M445.5,215.77h3.8M758.55,215.77h-3.8M445.5,207.68h2.4M758.55,207.68h-2.4M445.5,199.58h2.4M758.55,199.58h-2.4M445.5,191.49h2.4M758.55,191.49h-2.4M445.5,183.39h3.8M758.55,183.39h-3.8M445.5,175.30h2.4M758.55,175.30h-2.4M445.5,167.20h2.4M758.55,167.20h-2.4M445.5,159.11h2.4M758.55,159.11h-2.4M445.5,151.01h3.8M758.55,151.01h-3.8M445.5,142.92h2.4M758.55,142.92h-2.4M445.5,134.82h2.4M758.55,134.82h-2.4M445.5,126.72h2.4M758.55,126.72h-2.4M445.5,118.63h3.8M758.55,118.63h-3.8M445.5,110.53h2.4M758.55,110.53h-2.4M445.5,102.44h2.4M758.55,102.44h-2.4M445.5,94.34h2.4M758.55,94.34h-2.4M445.5,86.25h3.8M758.55,86.25h-3.8M445.5,78.16h2.4M758.55,78.16h-2.4M445.5,70.06h2.4M758.55,70.06h-2.4M445.5,61.96h2.4M758.55,61.96h-2.4" stroke="#5c5c5c" stroke-width="0.62" fill="none"/>
<text x="451.15" y="264.2" text-anchor="middle" class="tk">0</text>
<text x="511.33" y="264.2" text-anchor="middle" class="tk">1</text>
<text x="571.51" y="264.2" text-anchor="middle" class="tk">2</text>
<text x="631.69" y="264.2" text-anchor="middle" class="tk">3</text>
<text x="691.87" y="264.2" text-anchor="middle" class="tk">4</text>
<text x="752.05" y="264.2" text-anchor="middle" class="tk">5</text>
<text x="441.8" y="89.70" text-anchor="end" class="tk">0.0</text>
<text x="441.8" y="122.08" text-anchor="end" class="tk">−0.2</text>
<text x="441.8" y="154.46" text-anchor="end" class="tk">−0.4</text>
<text x="441.8" y="186.84" text-anchor="end" class="tk">−0.6</text>
<text x="441.8" y="219.22" text-anchor="end" class="tk">−0.8</text>
<text x="441.8" y="251.60" text-anchor="end" class="tk">−1.0</text>
<g clip-path="url(#cb)">
<path d="M451.3,248.1 L452.3,248.1 L453.3,248.1 L454.3,248.1 L455.3,248.1 L456.3,248.1 L457.3,248.1 L458.3,248.1 L459.3,248.0 L460.3,248.0 L461.3,247.9 L462.3,247.8 L463.3,247.6 L464.3,247.4 L465.3,247.2 L466.4,246.9 L467.4,246.5 L468.4,246.1 L469.4,245.5 L470.4,244.9 L471.4,244.2 L472.4,243.3 L473.4,242.4 L474.4,241.3 L475.4,240.1 L476.4,238.7 L477.4,237.2 L478.4,235.6 L479.4,233.7 L480.4,231.8 L481.4,229.6 L482.5,227.3 L483.5,224.8 L484.5,222.2 L485.5,219.4 L486.5,216.5 L487.5,213.4 L488.5,210.2 L489.5,206.9 L490.5,203.5 L491.5,200.1 L492.5,196.5 L493.5,192.9 L494.5,189.3 L495.5,185.7 L496.5,182.0 L497.5,178.5 L498.6,174.9 L499.6,171.4 L500.6,168.0 L501.6,164.7 L502.6,161.5 L503.6,158.5 L504.6,155.5 L505.6,152.7 L506.6,150.1 L507.6,147.6 L508.6,145.2 L509.6,143.1 L510.6,141.0 L511.6,139.2 L512.6,137.5 L513.6,135.9 L514.7,134.5 L515.7,133.3 L516.7,132.2 L517.7,131.2 L518.7,130.3 L519.7,129.5 L520.7,128.9 L521.7,128.3 L522.7,127.8 L523.7,127.4 L524.7,127.1 L525.7,126.8 L526.7,126.6 L527.7,126.4 L528.7,126.3 L529.8,126.2 L530.8,126.1 L531.8,126.0 L532.8,126.0 L533.8,126.0 L534.8,125.9 L535.8,125.9 L536.8,125.9 L537.8,125.9 L538.8,125.8 L539.8,125.8 L540.8,125.7 L541.8,125.7 L542.8,125.6 L543.8,125.5 L544.8,125.4 L545.9,125.3 L546.9,125.1 L547.9,125.0 L548.9,124.8 L549.9,124.6 L550.9,124.4 L551.9,124.2 L552.9,123.9 L553.9,123.7 L554.9,123.4 L555.9,123.1 L556.9,122.9 L557.9,122.6 L558.9,122.3 L559.9,122.0 L560.9,121.6 L562.0,121.3 L563.0,121.0 L564.0,120.6 L565.0,120.3 L566.0,119.9 L567.0,119.6 L568.0,119.2 L569.0,118.9 L570.0,118.5 L571.0,118.2 L572.0,117.8 L573.0,117.5 L574.0,117.1 L575.0,116.7 L576.0,116.4 L577.0,116.0 L578.1,115.7 L579.1,115.3 L580.1,115.0 L581.1,114.7 L582.1,114.3 L583.1,114.0 L584.1,113.7 L585.1,113.3 L586.1,113.0 L587.1,112.7 L588.1,112.4 L589.1,112.1 L590.1,111.8 L591.1,111.5 L592.1,111.2 L593.1,110.9 L594.2,110.6 L595.2,110.3 L596.2,110.0 L597.2,109.8 L598.2,109.5 L599.2,109.2 L600.2,109.0 L601.2,108.7 L602.2,108.4 L603.2,108.2 L604.2,107.9 L605.2,107.7 L606.2,107.5 L607.2,107.2 L608.2,107.0 L609.3,106.8 L610.3,106.5 L611.3,106.3 L612.3,106.1 L613.3,105.9 L614.3,105.7 L615.3,105.5 L616.3,105.2 L617.3,105.0 L618.3,104.8 L619.3,104.6 L620.3,104.5 L621.3,104.3 L622.3,104.1 L623.3,103.9 L624.3,103.7 L625.4,103.5 L626.4,103.4 L627.4,103.2 L628.4,103.0 L629.4,102.8 L630.4,102.7 L631.4,102.5 L632.4,102.3 L633.4,102.2 L634.4,102.0 L635.4,101.9 L636.4,101.7 L637.4,101.6 L638.4,101.4 L639.4,101.3 L640.4,101.1 L641.5,101.0 L642.5,100.8 L643.5,100.7 L644.5,100.6 L645.5,100.4 L646.5,100.3 L647.5,100.2 L648.5,100.0 L649.5,99.9 L650.5,99.8 L651.5,99.7 L652.5,99.5 L653.5,99.4 L654.5,99.3 L655.5,99.2 L656.5,99.1 L657.6,98.9 L658.6,98.8 L659.6,98.7 L660.6,98.6 L661.6,98.5 L662.6,98.4 L663.6,98.3 L664.6,98.2 L665.6,98.1 L666.6,98.0 L667.6,97.9 L668.6,97.8 L669.6,97.7 L670.6,97.6 L671.6,97.5 L672.6,97.4 L673.7,97.3 L674.7,97.2 L675.7,97.1 L676.7,97.0 L677.7,96.9 L678.7,96.8 L679.7,96.8 L680.7,96.7 L681.7,96.6 L682.7,96.5 L683.7,96.4 L684.7,96.3 L685.7,96.3 L686.7,96.2 L687.7,96.1 L688.8,96.0 L689.8,95.9 L690.8,95.9 L691.8,95.8 L692.8,95.7 L693.8,95.6 L694.8,95.6 L695.8,95.5 L696.8,95.4 L697.8,95.4 L698.8,95.3 L699.8,95.2 L700.8,95.1 L701.8,95.1 L702.8,95.0 L703.8,94.9 L704.9,94.9 L705.9,94.8 L706.9,94.8 L707.9,94.7 L708.9,94.6 L709.9,94.6 L710.9,94.5 L711.9,94.4 L712.9,94.4 L713.9,94.3 L714.9,94.3 L715.9,94.2 L716.9,94.2 L717.9,94.1 L718.9,94.0 L719.9,94.0 L721.0,93.9 L722.0,93.9 L723.0,93.8 L724.0,93.8 L725.0,93.7 L726.0,93.7 L727.0,93.6 L728.0,93.6 L729.0,93.5 L730.0,93.5 L731.0,93.4 L732.0,93.4 L733.0,93.3 L734.0,93.3 L735.0,93.2 L736.0,93.2 L737.1,93.1 L738.1,93.1 L739.1,93.0 L740.1,93.0 L741.1,92.9 L742.1,92.9 L743.1,92.9 L744.1,92.8 L745.1,92.8 L746.1,92.7 L747.1,92.7 L748.1,92.6 L749.1,92.6 L750.1,92.6 L751.1,92.5 L752.1,92.5" fill="none" stroke="#ff8000" stroke-width="2.5" stroke-linejoin="round" stroke-dasharray="5.3 8.2" stroke-linecap="square"/>
<path d="M451.3,248.1 L452.3,248.1 L453.3,248.1 L454.3,248.1 L455.3,248.1 L456.3,248.1 L457.3,248.1 L458.3,248.1 L459.3,248.1 L460.3,248.1 L461.3,248.0 L462.3,248.0 L463.3,247.9 L464.3,247.8 L465.3,247.7 L466.4,247.5 L467.4,247.3 L468.4,247.1 L469.4,246.8 L470.4,246.5 L471.4,246.1 L472.4,245.7 L473.4,245.2 L474.4,244.7 L475.4,244.0 L476.4,243.3 L477.4,242.5 L478.4,241.6 L479.4,240.6 L480.4,239.5 L481.4,238.4 L482.5,237.1 L483.5,235.6 L484.5,234.1 L485.5,232.5 L486.5,230.7 L487.5,228.8 L488.5,226.8 L489.5,224.7 L490.5,222.4 L491.5,220.0 L492.5,217.5 L493.5,214.9 L494.5,212.2 L495.5,209.4 L496.5,206.5 L497.5,203.5 L498.6,200.4 L499.6,197.3 L500.6,194.1 L501.6,190.8 L502.6,187.5 L503.6,184.2 L504.6,180.9 L505.6,177.5 L506.6,174.2 L507.6,170.8 L508.6,167.5 L509.6,164.3 L510.6,161.0 L511.6,157.9 L512.6,154.8 L513.6,151.7 L514.7,148.8 L515.7,145.9 L516.7,143.1 L517.7,140.5 L518.7,137.9 L519.7,135.4 L520.7,133.0 L521.7,130.8 L522.7,128.6 L523.7,126.6 L524.7,124.6 L525.7,122.8 L526.7,121.1 L527.7,119.5 L528.7,117.9 L529.8,116.5 L530.8,115.2 L531.8,114.0 L532.8,112.8 L533.8,111.8 L534.8,110.8 L535.8,109.9 L536.8,109.1 L537.8,108.3 L538.8,107.6 L539.8,107.0 L540.8,106.4 L541.8,105.9 L542.8,105.4 L543.8,105.0 L544.8,104.6 L545.9,104.2 L546.9,103.9 L547.9,103.6 L548.9,103.3 L549.9,103.1 L550.9,102.9 L551.9,102.7 L552.9,102.5 L553.9,102.3 L554.9,102.1 L555.9,102.0 L556.9,101.8 L557.9,101.7 L558.9,101.6 L559.9,101.5 L560.9,101.3 L562.0,101.2 L563.0,101.1 L564.0,101.0 L565.0,100.9 L566.0,100.8 L567.0,100.7 L568.0,100.6 L569.0,100.5 L570.0,100.4 L571.0,100.3 L572.0,100.2 L573.0,100.1 L574.0,100.0 L575.0,99.9 L576.0,99.8 L577.0,99.7 L578.1,99.6 L579.1,99.4 L580.1,99.3 L581.1,99.2 L582.1,99.1 L583.1,99.0 L584.1,98.9 L585.1,98.8 L586.1,98.7 L587.1,98.5 L588.1,98.4 L589.1,98.3 L590.1,98.2 L591.1,98.1 L592.1,98.0 L593.1,97.9 L594.2,97.8 L595.2,97.6 L596.2,97.5 L597.2,97.4 L598.2,97.3 L599.2,97.2 L600.2,97.1 L601.2,97.0 L602.2,96.9 L603.2,96.8 L604.2,96.7 L605.2,96.6 L606.2,96.5 L607.2,96.4 L608.2,96.3 L609.3,96.2 L610.3,96.1 L611.3,96.0 L612.3,95.9 L613.3,95.8 L614.3,95.7 L615.3,95.6 L616.3,95.5 L617.3,95.4 L618.3,95.3 L619.3,95.2 L620.3,95.1 L621.3,95.1 L622.3,95.0 L623.3,94.9 L624.3,94.8 L625.4,94.7 L626.4,94.6 L627.4,94.5 L628.4,94.5 L629.4,94.4 L630.4,94.3 L631.4,94.2 L632.4,94.2 L633.4,94.1 L634.4,94.0 L635.4,93.9 L636.4,93.9 L637.4,93.8 L638.4,93.7 L639.4,93.7 L640.4,93.6 L641.5,93.5 L642.5,93.4 L643.5,93.4 L644.5,93.3 L645.5,93.3 L646.5,93.2 L647.5,93.1 L648.5,93.1 L649.5,93.0 L650.5,92.9 L651.5,92.9 L652.5,92.8 L653.5,92.8 L654.5,92.7 L655.5,92.6 L656.5,92.6 L657.6,92.5 L658.6,92.5 L659.6,92.4 L660.6,92.4 L661.6,92.3 L662.6,92.3 L663.6,92.2 L664.6,92.2 L665.6,92.1 L666.6,92.1 L667.6,92.0 L668.6,92.0 L669.6,91.9 L670.6,91.9 L671.6,91.8 L672.6,91.8 L673.7,91.7 L674.7,91.7 L675.7,91.6 L676.7,91.6 L677.7,91.6 L678.7,91.5 L679.7,91.5 L680.7,91.4 L681.7,91.4 L682.7,91.3 L683.7,91.3 L684.7,91.3 L685.7,91.2 L686.7,91.2 L687.7,91.1 L688.8,91.1 L689.8,91.1 L690.8,91.0 L691.8,91.0 L692.8,91.0 L693.8,90.9 L694.8,90.9 L695.8,90.9 L696.8,90.8 L697.8,90.8 L698.8,90.7 L699.8,90.7 L700.8,90.7 L701.8,90.6 L702.8,90.6 L703.8,90.6 L704.9,90.5 L705.9,90.5 L706.9,90.5 L707.9,90.5 L708.9,90.4 L709.9,90.4 L710.9,90.4 L711.9,90.3 L712.9,90.3 L713.9,90.3 L714.9,90.2 L715.9,90.2 L716.9,90.2 L717.9,90.2 L718.9,90.1 L719.9,90.1 L721.0,90.1 L722.0,90.1 L723.0,90.0 L724.0,90.0 L725.0,90.0 L726.0,89.9 L727.0,89.9 L728.0,89.9 L729.0,89.9 L730.0,89.8 L731.0,89.8 L732.0,89.8 L733.0,89.8 L734.0,89.7 L735.0,89.7 L736.0,89.7 L737.1,89.7 L738.1,89.7 L739.1,89.6 L740.1,89.6 L741.1,89.6 L742.1,89.6 L743.1,89.5 L744.1,89.5 L745.1,89.5 L746.1,89.5 L747.1,89.5 L748.1,89.4 L749.1,89.4 L750.1,89.4 L751.1,89.4 L752.1,89.4" fill="none" stroke="#ff0000" stroke-width="2.5" stroke-linejoin="round" stroke-dasharray="11.3 14.7" stroke-linecap="square"/>
<path d="M451.3,248.1 L452.3,248.1 L453.3,248.1 L454.3,248.1 L455.3,248.1 L456.3,248.1 L457.3,248.1 L458.3,248.1 L459.3,248.1 L460.3,248.1 L461.3,248.1 L462.3,248.0 L463.3,248.0 L464.3,247.9 L465.3,247.8 L466.4,247.7 L467.4,247.6 L468.4,247.4 L469.4,247.3 L470.4,247.1 L471.4,246.8 L472.4,246.5 L473.4,246.2 L474.4,245.8 L475.4,245.4 L476.4,244.9 L477.4,244.4 L478.4,243.7 L479.4,243.1 L480.4,242.3 L481.4,241.5 L482.5,240.6 L483.5,239.6 L484.5,238.6 L485.5,237.4 L486.5,236.1 L487.5,234.8 L488.5,233.3 L489.5,231.8 L490.5,230.1 L491.5,228.4 L492.5,226.5 L493.5,224.6 L494.5,222.5 L495.5,220.4 L496.5,218.1 L497.5,215.7 L498.6,213.3 L499.6,210.7 L500.6,208.1 L501.6,205.4 L502.6,202.5 L503.6,199.7 L504.6,196.7 L505.6,193.7 L506.6,190.7 L507.6,187.6 L508.6,184.4 L509.6,181.3 L510.6,178.1 L511.6,174.9 L512.6,171.7 L513.6,168.4 L514.7,165.2 L515.7,162.1 L516.7,158.9 L517.7,155.8 L518.7,152.7 L519.7,149.7 L520.7,146.7 L521.7,143.7 L522.7,140.9 L523.7,138.1 L524.7,135.4 L525.7,132.7 L526.7,130.1 L527.7,127.7 L528.7,125.3 L529.8,123.0 L530.8,120.7 L531.8,118.6 L532.8,116.5 L533.8,114.6 L534.8,112.7 L535.8,110.9 L536.8,109.3 L537.8,107.7 L538.8,106.1 L539.8,104.7 L540.8,103.3 L541.8,102.1 L542.8,100.9 L543.8,99.7 L544.8,98.7 L545.9,97.7 L546.9,96.7 L547.9,95.9 L548.9,95.1 L549.9,94.3 L550.9,93.6 L551.9,93.0 L552.9,92.4 L553.9,91.8 L554.9,91.3 L555.9,90.9 L556.9,90.4 L557.9,90.0 L558.9,89.7 L559.9,89.4 L560.9,89.0 L562.0,88.8 L563.0,88.5 L564.0,88.3 L565.0,88.1 L566.0,87.9 L567.0,87.7 L568.0,87.6 L569.0,87.4 L570.0,87.3 L571.0,87.2 L572.0,87.1 L573.0,87.0 L574.0,86.9 L575.0,86.8 L576.0,86.8 L577.0,86.7 L578.1,86.7 L579.1,86.6 L580.1,86.6 L581.1,86.5 L582.1,86.5 L583.1,86.5 L584.1,86.4 L585.1,86.4 L586.1,86.4 L587.1,86.4 L588.1,86.4 L589.1,86.3 L590.1,86.3 L591.1,86.3 L592.1,86.3 L593.1,86.3 L594.2,86.3 L595.2,86.3 L596.2,86.3 L597.2,86.3 L598.2,86.3 L599.2,86.3 L600.2,86.3 L601.2,86.3 L602.2,86.3 L603.2,86.3 L604.2,86.3 L605.2,86.3 L606.2,86.3 L607.2,86.3 L608.2,86.3 L609.3,86.3 L610.3,86.3 L611.3,86.3 L612.3,86.3 L613.3,86.3 L614.3,86.3 L615.3,86.3 L616.3,86.3 L617.3,86.3 L618.3,86.3 L619.3,86.3 L620.3,86.3 L621.3,86.3 L622.3,86.3 L623.3,86.3 L624.3,86.3 L625.4,86.3 L626.4,86.3 L627.4,86.3 L628.4,86.3 L629.4,86.3 L630.4,86.3 L631.4,86.3 L632.4,86.3 L633.4,86.3 L634.4,86.3 L635.4,86.3 L636.4,86.3 L637.4,86.3 L638.4,86.3 L639.4,86.3 L640.4,86.3 L641.5,86.3 L642.5,86.3 L643.5,86.3 L644.5,86.3 L645.5,86.3 L646.5,86.3 L647.5,86.3 L648.5,86.3 L649.5,86.3 L650.5,86.3 L651.5,86.3 L652.5,86.3 L653.5,86.3 L654.5,86.3 L655.5,86.3 L656.5,86.3 L657.6,86.3 L658.6,86.3 L659.6,86.3 L660.6,86.3 L661.6,86.3 L662.6,86.3 L663.6,86.3 L664.6,86.3 L665.6,86.3 L666.6,86.3 L667.6,86.3 L668.6,86.3 L669.6,86.3 L670.6,86.3 L671.6,86.3 L672.6,86.3 L673.7,86.3 L674.7,86.3 L675.7,86.3 L676.7,86.3 L677.7,86.3 L678.7,86.3 L679.7,86.3 L680.7,86.3 L681.7,86.3 L682.7,86.3 L683.7,86.3 L684.7,86.3 L685.7,86.3 L686.7,86.3 L687.7,86.3 L688.8,86.3 L689.8,86.3 L690.8,86.3 L691.8,86.3 L692.8,86.3 L693.8,86.3 L694.8,86.3 L695.8,86.3 L696.8,86.3 L697.8,86.3 L698.8,86.3 L699.8,86.3 L700.8,86.3 L701.8,86.3 L702.8,86.3 L703.8,86.3 L704.9,86.3 L705.9,86.3 L706.9,86.3 L707.9,86.3 L708.9,86.3 L709.9,86.3 L710.9,86.3 L711.9,86.3 L712.9,86.3 L713.9,86.3 L714.9,86.2 L715.9,86.2 L716.9,86.3 L717.9,86.2 L718.9,86.2 L719.9,86.3 L721.0,86.2 L722.0,86.3 L723.0,86.2 L724.0,86.3 L725.0,86.3 L726.0,86.2 L727.0,86.2 L728.0,86.2 L729.0,86.3 L730.0,86.2 L731.0,86.3 L732.0,86.2 L733.0,86.3 L734.0,86.3 L735.0,86.2 L736.0,86.3 L737.1,86.3 L738.1,86.2 L739.1,86.3 L740.1,86.3 L741.1,86.2 L742.1,86.2 L743.1,86.3 L744.1,86.2 L745.1,86.2 L746.1,86.2 L747.1,86.2 L748.1,86.3 L749.1,86.3 L750.1,86.3 L751.1,86.2 L752.1,86.2" fill="none" stroke="#00ffff" stroke-width="2.5" stroke-linejoin="round"/>
<path d="M451.3,248.2 L452.3,248.1 L453.3,248.1 L454.3,248.1 L455.3,248.1 L456.3,248.1 L457.3,248.1 L458.3,248.1 L459.3,248.1 L460.3,248.1 L461.3,248.1 L462.3,248.1 L463.3,248.0 L464.3,248.0 L465.3,248.0 L466.4,247.9 L467.4,247.8 L468.4,247.7 L469.4,247.6 L470.4,247.5 L471.4,247.3 L472.4,247.2 L473.4,247.0 L474.4,246.7 L475.4,246.5 L476.4,246.2 L477.4,245.9 L478.4,245.5 L479.4,245.1 L480.4,244.6 L481.4,244.1 L482.5,243.6 L483.5,242.9 L484.5,242.3 L485.5,241.6 L486.5,240.8 L487.5,239.9 L488.5,239.0 L489.5,238.0 L490.5,237.0 L491.5,235.8 L492.5,234.6 L493.5,233.3 L494.5,231.9 L495.5,230.5 L496.5,229.0 L497.5,227.4 L498.6,225.7 L499.6,223.9 L500.6,222.0 L501.6,220.1 L502.6,218.0 L503.6,215.9 L504.6,213.7 L505.6,211.4 L506.6,209.1 L507.6,206.7 L508.6,204.2 L509.6,201.6 L510.6,199.0 L511.6,196.3 L512.6,193.5 L513.6,190.7 L514.7,187.9 L515.7,185.0 L516.7,182.1 L517.7,179.1 L518.7,176.1 L519.7,173.1 L520.7,170.1 L521.7,167.1 L522.7,164.0 L523.7,161.0 L524.7,158.0 L525.7,154.9 L526.7,151.9 L527.7,148.9 L528.7,146.0 L529.8,143.0 L530.8,140.1 L531.8,137.3 L532.8,134.5 L533.8,131.7 L534.8,129.0 L535.8,126.3 L536.8,123.7 L537.8,121.2 L538.8,118.7 L539.8,116.3 L540.8,113.9 L541.8,111.6 L542.8,109.4 L543.8,107.2 L544.8,105.2 L545.9,103.1 L546.9,101.2 L547.9,99.3 L548.9,97.5 L549.9,95.8 L550.9,94.2 L551.9,92.6 L552.9,91.0 L553.9,89.6 L554.9,88.2 L555.9,86.9 L556.9,85.6 L557.9,84.4 L558.9,83.3 L559.9,82.2 L560.9,81.2 L562.0,80.2 L563.0,79.3 L564.0,78.4 L565.0,77.6 L566.0,76.9 L567.0,76.2 L568.0,75.5 L569.0,74.9 L570.0,74.3 L571.0,73.7 L572.0,73.2 L573.0,72.8 L574.0,72.3 L575.0,71.9 L576.0,71.6 L577.0,71.2 L578.1,70.9 L579.1,70.6 L580.1,70.4 L581.1,70.1 L582.1,69.9 L583.1,69.7 L584.1,69.5 L585.1,69.4 L586.1,69.3 L587.1,69.1 L588.1,69.0 L589.1,69.0 L590.1,68.9 L591.1,68.8 L592.1,68.8 L593.1,68.8 L594.2,68.7 L595.2,68.7 L596.2,68.7 L597.2,68.7 L598.2,68.8 L599.2,68.8 L600.2,68.8 L601.2,68.9 L602.2,68.9 L603.2,69.0 L604.2,69.0 L605.2,69.1 L606.2,69.1 L607.2,69.2 L608.2,69.3 L609.3,69.4 L610.3,69.5 L611.3,69.5 L612.3,69.6 L613.3,69.7 L614.3,69.8 L615.3,69.9 L616.3,70.0 L617.3,70.1 L618.3,70.2 L619.3,70.3 L620.3,70.4 L621.3,70.5 L622.3,70.6 L623.3,70.7 L624.3,70.8 L625.4,70.9 L626.4,71.0 L627.4,71.1 L628.4,71.3 L629.4,71.4 L630.4,71.5 L631.4,71.6 L632.4,71.7 L633.4,71.8 L634.4,71.9 L635.4,72.0 L636.4,72.1 L637.4,72.2 L638.4,72.3 L639.4,72.4 L640.4,72.5 L641.5,72.6 L642.5,72.7 L643.5,72.8 L644.5,72.9 L645.5,73.1 L646.5,73.2 L647.5,73.3 L648.5,73.4 L649.5,73.5 L650.5,73.6 L651.5,73.7 L652.5,73.7 L653.5,73.8 L654.5,73.9 L655.5,74.0 L656.5,74.1 L657.6,74.2 L658.6,74.3 L659.6,74.4 L660.6,74.5 L661.6,74.6 L662.6,74.7 L663.6,74.8 L664.6,74.9 L665.6,75.0 L666.6,75.0 L667.6,75.1 L668.6,75.2 L669.6,75.3 L670.6,75.4 L671.6,75.5 L672.6,75.5 L673.7,75.6 L674.7,75.7 L675.7,75.8 L676.7,75.9 L677.7,75.9 L678.7,76.0 L679.7,76.1 L680.7,76.2 L681.7,76.3 L682.7,76.3 L683.7,76.4 L684.7,76.5 L685.7,76.5 L686.7,76.6 L687.7,76.7 L688.8,76.8 L689.8,76.8 L690.8,76.9 L691.8,77.0 L692.8,77.0 L693.8,77.1 L694.8,77.2 L695.8,77.2 L696.8,77.3 L697.8,77.4 L698.8,77.4 L699.8,77.5 L700.8,77.6 L701.8,77.6 L702.8,77.7 L703.8,77.7 L704.9,77.8 L705.9,77.9 L706.9,77.9 L707.9,78.0 L708.9,78.0 L709.9,78.1 L710.9,78.2 L711.9,78.2 L712.9,78.3 L713.9,78.3 L714.9,78.4 L715.9,78.4 L716.9,78.5 L717.9,78.5 L718.9,78.6 L719.9,78.6 L721.0,78.7 L722.0,78.8 L723.0,78.8 L724.0,78.9 L725.0,78.9 L726.0,79.0 L727.0,79.0 L728.0,79.0 L729.0,79.1 L730.0,79.1 L731.0,79.2 L732.0,79.2 L733.0,79.3 L734.0,79.3 L735.0,79.4 L736.0,79.4 L737.1,79.5 L738.1,79.5 L739.1,79.6 L740.1,79.6 L741.1,79.6 L742.1,79.7 L743.1,79.7 L744.1,79.8 L745.1,79.8 L746.1,79.9 L747.1,79.9 L748.1,79.9 L749.1,80.0 L750.1,80.0 L751.1,80.0 L752.1,80.1" fill="none" stroke="#00ff00" stroke-width="2.5" stroke-linejoin="round" stroke-dasharray="1.0 4.8 4.2 4.8" stroke-linecap="square"/>
<path d="M451.3,248.2 L452.3,248.1 L453.3,248.1 L454.3,248.1 L455.3,248.1 L456.3,248.1 L457.3,248.1 L458.3,248.1 L459.3,248.1 L460.3,248.1 L461.3,248.1 L462.3,248.1 L463.3,248.1 L464.3,248.0 L465.3,248.0 L466.4,247.9 L467.4,247.9 L468.4,247.8 L469.4,247.7 L470.4,247.6 L471.4,247.5 L472.4,247.3 L473.4,247.2 L474.4,247.0 L475.4,246.8 L476.4,246.5 L477.4,246.2 L478.4,245.9 L479.4,245.6 L480.4,245.2 L481.4,244.8 L482.5,244.3 L483.5,243.8 L484.5,243.2 L485.5,242.6 L486.5,242.0 L487.5,241.2 L488.5,240.5 L489.5,239.6 L490.5,238.7 L491.5,237.8 L492.5,236.7 L493.5,235.6 L494.5,234.5 L495.5,233.2 L496.5,231.9 L497.5,230.5 L498.6,229.1 L499.6,227.5 L500.6,225.9 L501.6,224.2 L502.6,222.4 L503.6,220.6 L504.6,218.7 L505.6,216.7 L506.6,214.6 L507.6,212.4 L508.6,210.2 L509.6,207.9 L510.6,205.5 L511.6,203.1 L512.6,200.6 L513.6,198.0 L514.7,195.4 L515.7,192.8 L516.7,190.0 L517.7,187.3 L518.7,184.5 L519.7,181.6 L520.7,178.8 L521.7,175.8 L522.7,172.9 L523.7,170.0 L524.7,167.0 L525.7,164.0 L526.7,161.1 L527.7,158.1 L528.7,155.1 L529.8,152.1 L530.8,149.2 L531.8,146.3 L532.8,143.4 L533.8,140.5 L534.8,137.6 L535.8,134.8 L536.8,132.0 L537.8,129.3 L538.8,126.6 L539.8,123.9 L540.8,121.3 L541.8,118.8 L542.8,116.3 L543.8,113.9 L544.8,111.5 L545.9,109.2 L546.9,106.9 L547.9,104.7 L548.9,102.6 L549.9,100.6 L550.9,98.6 L551.9,96.6 L552.9,94.8 L553.9,93.0 L554.9,91.2 L555.9,89.6 L556.9,87.9 L557.9,86.4 L558.9,84.9 L559.9,83.5 L560.9,82.1 L562.0,80.8 L563.0,79.6 L564.0,78.4 L565.0,77.3 L566.0,76.2 L567.0,75.2 L568.0,74.2 L569.0,73.3 L570.0,72.5 L571.0,71.6 L572.0,70.9 L573.0,70.2 L574.0,69.5 L575.0,68.8 L576.0,68.2 L577.0,67.7 L578.1,67.1 L579.1,66.6 L580.1,66.2 L581.1,65.8 L582.1,65.4 L583.1,65.0 L584.1,64.7 L585.1,64.4 L586.1,64.1 L587.1,63.8 L588.1,63.6 L589.1,63.4 L590.1,63.2 L591.1,63.1 L592.1,62.9 L593.1,62.8 L594.2,62.7 L595.2,62.6 L596.2,62.5 L597.2,62.4 L598.2,62.4 L599.2,62.4 L600.2,62.3 L601.2,62.3 L602.2,62.3 L603.2,62.3 L604.2,62.4 L605.2,62.4 L606.2,62.4 L607.2,62.5 L608.2,62.5 L609.3,62.6 L610.3,62.7 L611.3,62.7 L612.3,62.8 L613.3,62.9 L614.3,63.0 L615.3,63.1 L616.3,63.2 L617.3,63.3 L618.3,63.4 L619.3,63.5 L620.3,63.6 L621.3,63.8 L622.3,63.9 L623.3,64.0 L624.3,64.1 L625.4,64.3 L626.4,64.4 L627.4,64.5 L628.4,64.6 L629.4,64.8 L630.4,64.9 L631.4,65.0 L632.4,65.2 L633.4,65.3 L634.4,65.5 L635.4,65.6 L636.4,65.7 L637.4,65.9 L638.4,66.0 L639.4,66.1 L640.4,66.3 L641.5,66.4 L642.5,66.6 L643.5,66.7 L644.5,66.8 L645.5,67.0 L646.5,67.1 L647.5,67.2 L648.5,67.4 L649.5,67.5 L650.5,67.6 L651.5,67.8 L652.5,67.9 L653.5,68.0 L654.5,68.2 L655.5,68.3 L656.5,68.4 L657.6,68.6 L658.6,68.7 L659.6,68.8 L660.6,69.0 L661.6,69.1 L662.6,69.2 L663.6,69.3 L664.6,69.5 L665.6,69.6 L666.6,69.7 L667.6,69.8 L668.6,70.0 L669.6,70.1 L670.6,70.2 L671.6,70.3 L672.6,70.4 L673.7,70.5 L674.7,70.7 L675.7,70.8 L676.7,70.9 L677.7,71.0 L678.7,71.1 L679.7,71.2 L680.7,71.3 L681.7,71.4 L682.7,71.5 L683.7,71.7 L684.7,71.8 L685.7,71.9 L686.7,72.0 L687.7,72.1 L688.8,72.2 L689.8,72.3 L690.8,72.4 L691.8,72.5 L692.8,72.6 L693.8,72.7 L694.8,72.8 L695.8,72.9 L696.8,73.0 L697.8,73.1 L698.8,73.1 L699.8,73.2 L700.8,73.3 L701.8,73.4 L702.8,73.5 L703.8,73.6 L704.9,73.7 L705.9,73.8 L706.9,73.9 L707.9,73.9 L708.9,74.0 L709.9,74.1 L710.9,74.2 L711.9,74.3 L712.9,74.4 L713.9,74.4 L714.9,74.5 L715.9,74.6 L716.9,74.7 L717.9,74.8 L718.9,74.8 L719.9,74.9 L721.0,75.0 L722.0,75.1 L723.0,75.1 L724.0,75.2 L725.0,75.3 L726.0,75.4 L727.0,75.4 L728.0,75.5 L729.0,75.6 L730.0,75.6 L731.0,75.7 L732.0,75.8 L733.0,75.9 L734.0,75.9 L735.0,76.0 L736.0,76.1 L737.1,76.1 L738.1,76.2 L739.1,76.3 L740.1,76.3 L741.1,76.4 L742.1,76.4 L743.1,76.5 L744.1,76.6 L745.1,76.6 L746.1,76.7 L747.1,76.8 L748.1,76.8 L749.1,76.9 L750.1,76.9 L751.1,77.0 L752.1,77.0" fill="none" stroke="#0000ff" stroke-width="2.5" stroke-linejoin="round" stroke-dasharray="0.95 4.65" stroke-linecap="square"/>
</g>
<rect x="602.35" y="119.25" width="134.15" height="116.3" fill="#fff" stroke="#505050" stroke-width="0.65"/>
<path d="M606.70,134.2h8.3M620.20,134.2h8.3M633.70,134.2h8.3" stroke="#ff8000" stroke-width="2.5" fill="none"/>
<path d="M608.70,156.0h12.2M633.70,156.0h13.0" stroke="#ff0000" stroke-width="2.5" fill="none"/>
<path d="M609.0,178.6H647.7" stroke="#00ffff" stroke-width="2.5"/>
<path d="M609.00,202.7h3.2M614.10,202.7h3.1M619.40,202.7h6.8M628.70,202.7h3.0M633.90,202.7h6.9M643.00,202.7h3.6" stroke="#00ff00" stroke-width="2.5" fill="none"/>
<path d="M611.20,223.8h3.4M616.82,223.8h3.4M622.44,223.8h3.4M628.06,223.8h3.4M633.68,223.8h3.4M639.30,223.8h3.4M644.92,223.8h3.4" stroke="#0000ff" stroke-width="2.5" fill="none"/>
<text x="654.70" y="139.10" class="lu">λ</text><path d="M665.6,132.45H675.4000000000001M665.6,136.55H675.4000000000001" stroke="#151515" stroke-width="1.05" fill="none"/><path d="M678.2,134.50H687.8000000000001" stroke="#151515" stroke-width="1.05" fill="none"/><text x="689.65" y="139.10" class="lg">1</text>
<text x="654.70" y="160.20" class="lu">λ</text><path d="M665.6,153.55H675.4000000000001M665.6,157.65H675.4000000000001" stroke="#151515" stroke-width="1.05" fill="none"/><path d="M678.2,155.60H687.8000000000001" stroke="#151515" stroke-width="1.05" fill="none"/><path d="M690.4000000000001,154.40H697.8000000000001" stroke="#151515" stroke-width="0.95" fill="none"/><text x="692.20" y="151.10" class="fr">1</text><text x="692.00" y="167.60" class="fr">2</text>
<text x="654.70" y="183.80" class="lu">λ</text><path d="M665.6,177.15H675.4000000000001M665.6,181.25H675.4000000000001" stroke="#151515" stroke-width="1.05" fill="none"/><text x="677.15" y="183.80" class="lg">0</text>
<text x="654.70" y="206.30" class="lu">λ</text><path d="M665.6,199.65H675.4000000000001M665.6,203.75H675.4000000000001" stroke="#151515" stroke-width="1.05" fill="none"/><text x="677.45" y="206.30" class="lg">1</text>
<text x="654.70" y="227.60" class="lu">λ</text><path d="M665.6,220.95H675.4000000000001M665.6,225.05H675.4000000000001" stroke="#151515" stroke-width="1.05" fill="none"/><path d="M678.2,221.20H685.6" stroke="#151515" stroke-width="0.95" fill="none"/><text x="680.10" y="218.70" class="fr">3</text><text x="679.80" y="235.20" class="fr">2</text>
<g transform="rotate(-90)">
<text transform="translate(-118.44,407.05) scale(0.983,0.957)" class="bl">(</text>
<text transform="translate(-112.38,408.32) scale(0.827,1.113) skewX(-8)" class="bl">b</text>
<text transform="translate(-101.90,407.05) scale(0.957,0.957)" class="bl">)</text>
<text transform="translate(-212.91,408.95) scale(0.938,1.218) skewX(-8)" class="bl">Q</text>
<text transform="translate(-196.87,401.85) scale(1.055,1.065)" class="bs">λ</text>
</g>
<path d="M409.4,192.2V199.2" stroke="#000" stroke-width="1.5"/>
<text transform="translate(590.98,291.20) scale(1.520,0.987)" class="bw">|</text>
<text transform="translate(596.20,291.35) scale(0.957,1.013)" class="bw">w</text>
<text transform="translate(608.18,291.20) scale(1.520,0.987)" class="bw">|</text>
</svg>
</body></html>
